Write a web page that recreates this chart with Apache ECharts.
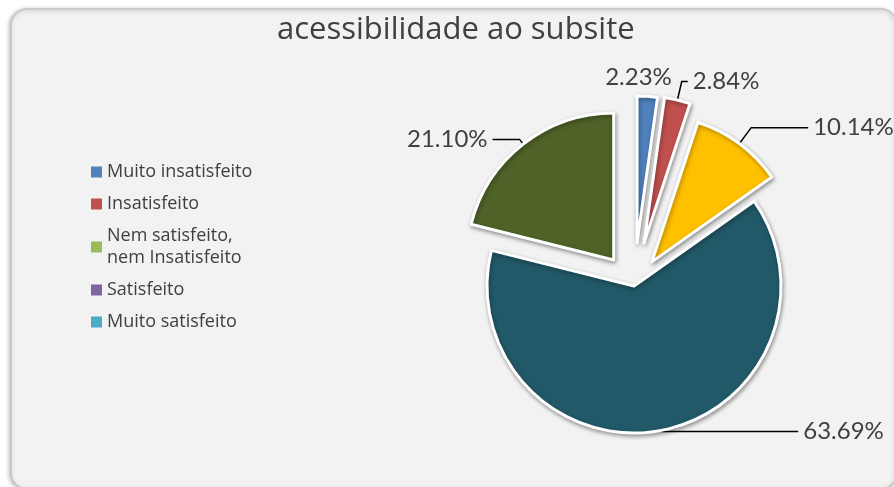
<!DOCTYPE html>
<html>
<head>
<meta charset="utf-8">
<script src="https://cdn.jsdelivr.net/npm/echarts@6/dist/echarts.min.js"></script>
<style>
  html, body { margin: 0; padding: 0; background: #fff; }
  #chart { width: 894px; height: 487px; }
</style>
</head>
<body>
<div id="chart"></div>
<script>
// dados
var categorias = ['Muito insatisfeito', 'Insatisfeito', 'Nem satisfeito,\nnem Insatisfeito', 'Satisfeito', 'Muito satisfeito'];
var valores = [2.23, 2.84, 10.14, 63.69, 21.10];
var rotulos = ['2.23%', '2.84%', '10.14%', '63.69%', '21.10%'];

// cores das fatias e da legenda (diferentes, como no original)
var coresFatia = ['#4F81BD', '#C0504D', '#FFC000', '#215968', '#4F6228'];
var coresLegenda = ['#4F81BD', '#C0504D', '#9BBB59', '#8064A2', '#4BACC6'];

// afastamento de cada fatia e linhas guia
var estilos = [
  { offset: 43, len: 12, len2: 0, line: false, dx: -48, dy: -7 },
  { offset: 44, len: 19, len2: 6, line: true },
  { offset: 30, len: 20, len2: 57, line: true },
  { offset: 0, len: 1, len2: 137, line: true },
  { offset: 33, len: 6, len2: 27, line: true }
];

var FONTE_ROT = 'Lato, "Open Sans", sans-serif';
var FONTE = '"Open Sans", Lato, sans-serif';

// uma série por fatia para poder variar o afastamento
function serieDaFatia(k) {
  var est = estilos[k];
  var dados = valores.map(function (v, i) {
    if (i === k) {
      return {
        name: categorias[i],
        value: v,
        selected: est.offset > 0,
        itemStyle: { color: coresFatia[i] },
        label: { formatter: rotulos[i] }
      };
    }
    return {
      name: categorias[i],
      value: v,
      itemStyle: { color: 'transparent', borderWidth: 0, shadowBlur: 0, shadowColor: 'transparent' },
      label: { show: false },
      labelLine: { show: false }
    };
  });
  var s = {
    type: 'pie',
    silent: true,
    animation: false,
    center: [634, 286],
    radius: [0, 147],
    startAngle: 90,
    clockwise: true,
    selectedMode: 'multiple',
    selectedOffset: est.offset,
    avoidLabelOverlap: false,
    itemStyle: {
      borderColor: '#ffffff',
      borderWidth: 3,
      shadowColor: 'rgba(0,0,0,0.35)',
      shadowBlur: 4,
      shadowOffsetX: 1,
      shadowOffsetY: 2
    },
    label: {
      show: true,
      position: 'outside',
      color: '#404040',
      fontSize: 24,
      fontFamily: FONTE_ROT
    },
    labelLine: {
      show: est.line,
      length: est.len,
      length2: est.len2,
      lineStyle: { color: '#000000', width: 1.5 }
    },
    emphasis: { disabled: true },
    data: dados
  };
  if (est.dx !== undefined) {
    s.labelLayout = { dx: est.dx, dy: est.dy };
  }
  return s;
}

var series = [];
for (var k = 0; k < valores.length; k++) series.push(serieDaFatia(k));

var option = {
  backgroundColor: '#ffffff',
  graphic: [{
    type: 'rect',
    z: -10,
    shape: { x: 11, y: 9, width: 886, height: 480, r: 16 },
    style: {
      fill: '#f2f2f2',
      stroke: '#c4c4c4',
      lineWidth: 1.5,
      shadowColor: 'rgba(0,0,0,0.25)',
      shadowBlur: 4,
      shadowOffsetX: -1,
      shadowOffsetY: 1
    }
  }],
  title: {
    text: 'acessibilidade ao subsite',
    left: 272,
    top: 10,
    textStyle: { color: '#404040', fontSize: 31, fontWeight: 'normal', fontFamily: FONTE }
  },
  legend: {
    orient: 'vertical',
    left: 91,
    top: 161,
    padding: 0,
    icon: 'rect',
    itemWidth: 11,
    itemHeight: 11,
    itemGap: 10,
    selectedMode: false,
    textStyle: { color: '#404040', fontSize: 18, lineHeight: 22, fontFamily: FONTE },
    data: categorias.map(function (c, i) {
      return { name: c, itemStyle: { color: coresLegenda[i], borderWidth: 0, shadowBlur: 0 } };
    })
  },
  series: series
};

var chart = echarts.init(document.getElementById('chart'));
chart.setOption(option);
</script>
</body>
</html>
